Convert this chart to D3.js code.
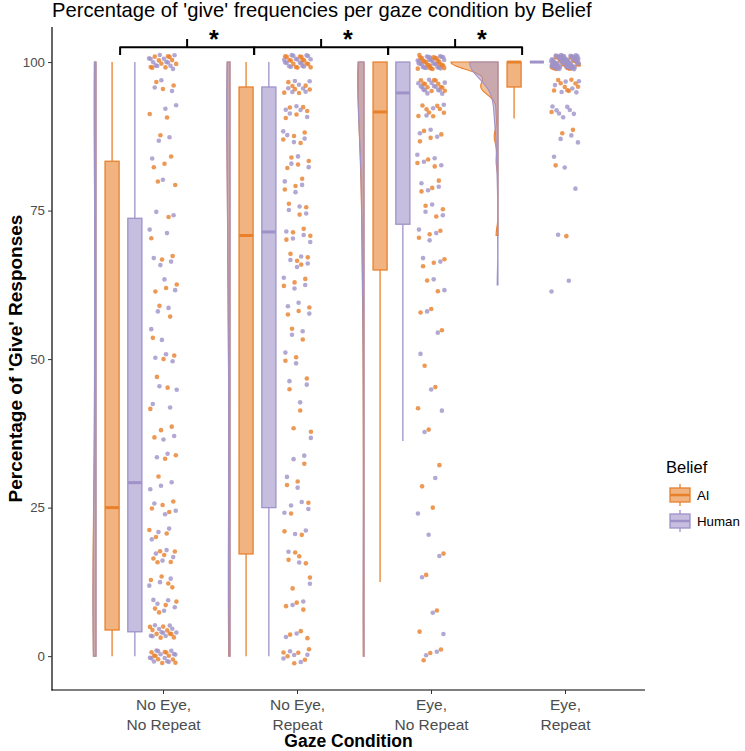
<!DOCTYPE html>
<html><head><meta charset="utf-8">
<script src="https://cdn.jsdelivr.net/npm/d3@7"></script>
<style>
body{margin:0;background:#fff}
svg{display:block}
text{font-family:"Liberation Sans",Arial,Helvetica,sans-serif}
</style>
</head><body>
<svg id="chart" width="745" height="751"></svg>
<script>
// ---------------- data ----------------
const categories = ["No Eye,\nNo Repeat", "No Eye,\nRepeat", "Eye,\nNo Repeat", "Eye,\nRepeat"];
const beliefs = ["AI", "Human"];
const yTicks = [0, 25, 50, 75, 100];
const responseLevels = [0, 4.17, 8.33, 12.5, 16.67, 20.83, 25, 29.17, 33.33, 37.5, 41.67, 45.83, 50,
  54.17, 58.33, 62.5, 66.67, 70.83, 75, 79.17, 83.33, 87.5, 91.67, 95.83, 100];
// number of participants at each response level, per gaze condition
const aiCounts = [
  [10,9,4,4,6,3,4,1,2,3,1,2,2,1,2,3,2,1,1,2,3,1,2,3,10],
  [6,3,3,2,4,2,2,2,1,2,1,2,2,2,3,3,4,4,3,3,4,4,5,7,14],
  [3,1,1,1,1,0,1,1,1,1,1,1,1,1,2,2,3,3,3,3,3,4,8,11,22],
  [0,0,0,0,0,0,0,0,0,0,0,0,0,0,0,0,0,1,0,0,1,2,1,9,25]
];
const humanCounts = [
  [12,10,5,3,4,3,3,3,2,2,2,2,3,2,2,2,3,2,2,1,1,2,2,3,12],
  [5,2,2,1,2,2,4,2,2,1,1,2,2,2,3,3,4,4,3,3,3,4,5,7,16],
  [2,1,1,1,1,1,1,1,0,1,1,1,1,1,1,2,2,3,3,3,4,3,3,14,24],
  [0,0,0,0,0,0,0,0,0,0,0,0,0,0,0,2,0,1,0,1,2,3,7,6,68]
];
// box statistics: [lower whisker, Q1, median, Q3, upper whisker]
const aiBox = [[0,4.4,25,83.3,100],[0,17.2,70.8,95.8,100],[12.5,65,91.6,100,100],[90.5,95.8,100,100,100]];
const humanBox = [[0,4.1,29.2,73.7,100],[0,25,71.4,95.8,100],[36.2,72.7,94.8,100,100],[100,100,100,100,100]];
const sigLabels = ["*", "*", "*"];

// ---------------- style ----------------
const colors = {AI: "#E8802C", Human: "#9F92C8"};
const panel = {left: 52, right: 645, top: 27, bottom: 690};

const svg = d3.select("#chart");
const x = d3.scalePoint().domain(categories).range([163, 565]);
const step = x.step();
const y = d3.scaleLinear().domain([-5.7, 105.9]).range([panel.bottom, panel.top]);

const countsBy = {AI: aiCounts, Human: humanCounts};
const boxBy = {AI: aiBox, Human: humanBox};

function expand(counts) {
  const out = [];
  counts.forEach((c, k) => { for (let j = 0; j < c; j++) out.push(responseLevels[k]); });
  return out;
}
function nrd0(v) {
  const s = d3.deviation(v) || 0;
  const iqr = d3.quantile(v, 0.75) - d3.quantile(v, 0.25);
  let lo = Math.min(s, iqr / 1.34);
  if (!(lo > 0)) lo = s || Math.abs(v[0]) || 1;
  return 0.9 * lo * Math.pow(v.length, -0.2);
}
function kde(v, bw, grid) {
  const n = v.length;
  return grid.map(t => {
    let s = 0;
    for (const xi of v) { const u = (t - xi) / bw; s += Math.exp(-0.5 * u * u); }
    return [t, s / (n * bw * Math.sqrt(2 * Math.PI))];
  });
}

// violins
const violins = [];
categories.forEach((cat, gi) => {
  beliefs.forEach(b => {
    const v = expand(countsBy[b][gi]).sort(d3.ascending);
    const bw = nrd0(v);
    const mn = v[0], mx = v[v.length - 1];
    const grid = d3.range(0, 201).map(i => mn + (mx - mn) * i / 200);
    violins.push({cat, b, dens: kde(v, bw, grid)});
  });
});
const maxD = d3.max(violins, d => d3.max(d.dens, p => p[1]));
const vW = d3.scaleLinear().domain([0, maxD]).range([0, 47]);

const gV = svg.append("g");
violins.forEach(vd => {
  const base = x(vd.cat) - 0.5 * step;
  const area = d3.area().y(p => y(p[0])).x0(base).x1(p => base - vW(p[1]));
  gV.append("path").attr("d", area(vd.dens))
    .attr("fill", colors[vd.b]).attr("fill-opacity", 0.5)
    .attr("stroke", colors[vd.b]).attr("stroke-width", 1.1);
});

// boxplots
const gB = svg.append("g");
const boxOffset = {AI: -0.38, Human: -0.21};
const bwid = 0.105 * step;
categories.forEach((cat, gi) => {
  beliefs.forEach(b => {
    const [lo, q1, med, q3, hi] = boxBy[b][gi];
    const cx = x(cat) + boxOffset[b] * step;
    const c = colors[b];
    gB.append("line").attr("x1", cx).attr("x2", cx).attr("y1", y(q1)).attr("y2", y(lo))
      .attr("stroke", c).attr("stroke-width", 1.3);
    gB.append("line").attr("x1", cx).attr("x2", cx).attr("y1", y(q3)).attr("y2", y(hi))
      .attr("stroke", c).attr("stroke-width", 1.3);
    gB.append("rect").attr("x", cx - bwid / 2).attr("width", bwid)
      .attr("y", y(q3)).attr("height", Math.max(0, y(q1) - y(q3)))
      .attr("fill", c).attr("fill-opacity", 0.6).attr("stroke", c).attr("stroke-width", 1.3);
    gB.append("line").attr("x1", cx - bwid / 2).attr("x2", cx + bwid / 2)
      .attr("y1", y(med)).attr("y2", y(med)).attr("stroke", c).attr("stroke-width", 3);
  });
});

// jittered points
const gP = svg.append("g");
const pts = [];
categories.forEach((cat, gi) => {
  beliefs.forEach((b, bi) => {
    expand(countsBy[b][gi]).forEach((v, i) => {
      const jx = ((i + 1) * 0.6180339887 + gi * 0.31 + bi * 0.47) % 1;
      const jy = ((i + 1) * 0.7548776662 + gi * 0.23 + bi * 0.59) % 1;
      pts.push({cat, b, v, jx, jy, ord: (i * 2 + bi)});
    });
  });
});
pts.sort((a, b) => a.ord - b.ord);
gP.selectAll("circle").data(pts).join("circle")
  .attr("cx", d => x(d.cat) + (d.jx - 0.5) * 28)
  .attr("cy", d => y(d.v + (d.jy - 0.5) * 2.4))
  .attr("r", 2.3)
  .attr("fill", d => colors[d.b]).attr("fill-opacity", 0.8);

// axes
const ax = svg.append("g");
ax.append("line").attr("x1", panel.left).attr("x2", panel.left).attr("y1", panel.top).attr("y2", panel.bottom + 0.5)
  .attr("stroke", "#000").attr("stroke-width", 1.2);
ax.append("line").attr("x1", panel.left - 0.5).attr("x2", panel.right).attr("y1", panel.bottom).attr("y2", panel.bottom)
  .attr("stroke", "#000").attr("stroke-width", 1.2);
const yAxis = ax.append("g").attr("transform", `translate(${panel.left},0)`)
  .call(d3.axisLeft(y).tickValues(yTicks).tickSize(4).tickPadding(3));
yAxis.select(".domain").remove();
yAxis.selectAll(".tick line").attr("stroke", "#333");
yAxis.selectAll(".tick text").attr("fill", "#4D4D4D").attr("font-size", 13.3).attr("font-family", null);
const xAxis = ax.append("g").attr("transform", `translate(0,${panel.bottom})`)
  .call(d3.axisBottom(x).tickSize(4).tickFormat(""));
xAxis.select(".domain").remove();
xAxis.selectAll(".tick line").attr("stroke", "#333");
xAxis.selectAll(".tick").each(function(d) {
  const t = d3.select(this).append("text").attr("fill", "#4D4D4D").attr("font-size", 15.5)
    .attr("text-anchor", "middle");
  d.split("\n").forEach((ln, i) => t.append("tspan").attr("x", 0).attr("y", 19.5 + i * 20).text(ln));
});

// titles
svg.append("text").attr("x", 52).attr("y", 17).attr("font-size", 20.2).attr("fill", "#000")
  .text("Percentage of 'give' frequencies per gaze condition by Belief");
svg.append("text").attr("x", (panel.left + panel.right) / 2).attr("y", 747).attr("text-anchor", "middle")
  .attr("font-size", 17.5).attr("font-weight", "bold").text("Gaze Condition");
svg.append("text").attr("transform", `translate(22,${(panel.top + panel.bottom) / 2}) rotate(-90)`)
  .attr("text-anchor", "middle").attr("font-size", 19).attr("font-weight", "bold")
  .text("Percentage of 'Give' Responses");

// significance brackets
const gS = svg.append("g");
sigLabels.forEach((lab, i) => {
  const x1 = x(categories[i]) - 0.32 * step;
  const x2 = x(categories[i + 1]) - 0.32 * step;
  const mid = (x1 + x2) / 2;
  gS.append("path")
    .attr("d", `M${x1},${y(101.2)} V${y(102.5)} H${x2} V${y(101.2)} M${mid},${y(102.5)} V${y(103.9)}`)
    .attr("fill", "none").attr("stroke", "#000").attr("stroke-width", 2).attr("stroke-linejoin", "round");
  gS.append("text").attr("x", mid + 0.2 * step).attr("y", 48).attr("text-anchor", "middle")
    .attr("font-size", 25).attr("font-weight", "bold").text(lab);
});

// legend
const lg = svg.append("g").attr("transform", "translate(666,0)");
lg.append("text").attr("x", 0).attr("y", 473).attr("font-size", 16.5).text("Belief");
beliefs.forEach((b, i) => {
  const ky = 483 + i * 26;
  const c = colors[b];
  const g = lg.append("g").attr("transform", `translate(2,${ky})`);
  g.append("line").attr("x1", 12).attr("x2", 12).attr("y1", 1).attr("y2", 23).attr("stroke", c).attr("stroke-width", 1.3);
  g.append("rect").attr("x", 2).attr("y", 5).attr("width", 20).attr("height", 14)
    .attr("fill", "#fff").attr("stroke", "none");
  g.append("rect").attr("x", 2).attr("y", 5).attr("width", 20).attr("height", 14)
    .attr("fill", c).attr("fill-opacity", 0.6).attr("stroke", c).attr("stroke-width", 1.3);
  g.append("line").attr("x1", 2).attr("x2", 22).attr("y1", 12).attr("y2", 12).attr("stroke", c).attr("stroke-width", 2.5);
  lg.append("text").attr("x", 31).attr("y", ky + 17).attr("font-size", 13.3).text(b);
});
</script>
</body></html>
